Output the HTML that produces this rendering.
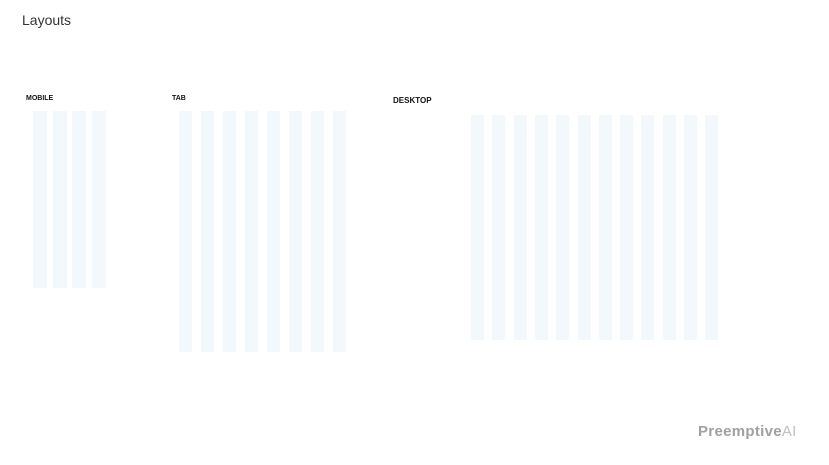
<!DOCTYPE html>
<html><head><meta charset="utf-8"><style>
body{margin:0;width:829px;height:465px;background:#fff;position:relative;overflow:hidden;font-family:"Liberation Sans",sans-serif}
.t{position:absolute;color:#111}
.c{position:absolute;background:#f3f8fd}
</style></head><body>
<div class="t" style="left:22px;top:12px;font-size:14px;color:#333">Layouts</div>
<div class="t" style="left:26px;top:95px;font-size:7px;font-weight:bold">MOBILE</div>
<div class="t" style="left:172px;top:95px;font-size:7px;font-weight:bold">TAB</div>
<div class="t" style="left:393px;top:96px;font-size:8px;font-weight:bold">DESKTOP</div>
<div class="t" style="left:698px;top:423px;font-size:15px;font-weight:bold;color:#a0a0a0;letter-spacing:0.3px">Preemptive<span style="font-weight:normal;color:#c0c0c0">AI</span></div>
<script>
const groups=[
 {name:'mobile',x:33,y:111,w:14,h:177,pitch:19.7,n:4},
 {name:'tab',x:179,y:111,w:13,h:241,pitch:22,n:8},
 {name:'desktop',x:471,y:115,w:13,h:225,pitch:21.3,n:12}
];
groups.forEach(g=>{for(let i=0;i<g.n;i++){const d=document.createElement('div');d.className='c';


d.style.left=(g.x+i*g.pitch)+'px';d.style.top=g.y+'px';d.style.width=g.w+'px';d.style.height=g.h+'px';document.body.appendChild(d);}});
</script>
</body></html>
